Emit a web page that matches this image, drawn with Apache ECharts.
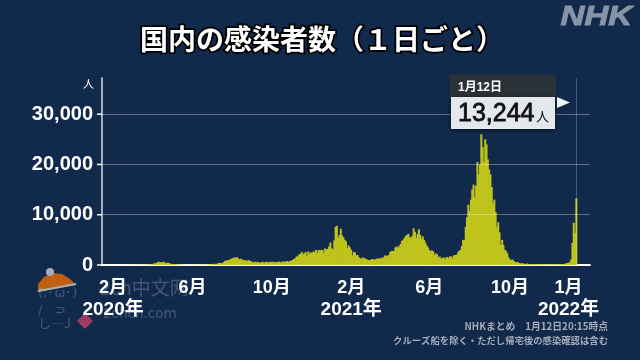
<!DOCTYPE html>
<html><head><meta charset="utf-8">
<style>html,body{margin:0;padding:0;background:#11294a}#c{width:640px;height:360px}</style>
<script src="https://cdn.jsdelivr.net/npm/echarts@6/dist/echarts.min.js"></script>
</head><body><div id="c"></div>
<script>
const titleText = '国内の感染者数（１日ごと）';
const yTicks = [0, 10000, 20000, 30000];
const yUnit = '人';
// One reading every second day from 15 Jan 2020
const cases2020 = [
  0,0,0,0,2,1,1,2,2,
  2,0,3,5,10,8,10,15,12,15,12,10,20,20,
  15,30,30,40,45,50,35,45,40,55,40,60,50,90,100,190,
  250,360,300,510,650,560,500,600,640,430,380,480,400,260,210,
  200,200,130,110,100,80,70,50,30,30,20,25,30,30,20,
  40,30,40,20,40,30,40,50,40,50,60,70,70,90,100,
  130,190,250,200,240,390,430,400,290,600,800,900,920,1000,1100,1250,
  1350,1500,1400,1600,1350,1100,1250,1100,1000,1000,900,800,1000,850,750,
  650,500,650,500,650,500,450,550,650,400,550,650,500,550,650,
  550,650,500,600,500,650,650,450,650,700,550,750,800,600,800,900,
  1000,1200,1300,1700,1700,2100,2200,2600,2100,2300,2600,1800,2700,2200,2500,
  2400,2700,2600,3000,2400,3000,2800,3000,3000,2400,3300,3100,3200,3700,4500
];
const cases2021 = [
  3300,3100,4900,7600,7800,5400,6000,7200,5900,5500,5000,4700,3300,3900,3500,3000,
  1900,2600,2500,1900,2000,1500,1300,1300,1500,1300,1300,1100,1000,950,
  1000,1200,1100,1100,1100,1300,1200,1400,1200,1500,1500,1900,1700,1900,2000,
  2600,2800,2800,2800,3500,3700,3400,3800,4200,4800,5000,5400,5800,6000,6200,
  5500,5500,5800,7300,6600,5400,6200,7100,6000,5200,5700,5000,4500,3900,3500,3000,
  2700,2900,2700,2000,2300,2100,1500,1700,1300,1400,1500,1100,1500,1600,1300,
  1700,1700,1300,1900,2000,2000,2500,2800,3000,3800,5000,5000,7600,9500,12000,
  10800,13000,15000,16000,13500,15800,20500,18000,20000,26000,23500,20500,25000,24000,21000,19000,
  18000,15500,12300,13000,10500,7500,8500,6500,4000,5000,4000,3000,2800,2300,1500,
  1100,1000,1100,800,600,500,600,400,300,350,300,250,200,300,200,
  180,150,220,150,180,140,150,120,160,140,150,130,100,130,120,
  130,110,130,100,150,120,110,140,150,180,190,200,240,280,400,500
];
const cases2022 = [500,1100,4400,8400,6400,13244];
const trailingGap = 10;
const monthLabels = ['2月','6月','10月','2月','6月','10月','1月'];
const yearLabels = ['2020年','','','2021年','','','2022年'];
const labelSlots = [8,69,130,191,251,313,358];
const calloutDate = '1月12日';
const calloutValue = '13,244';
const sourceNote = 'NHKまとめ　1月12日20:15時点';
const scopeNote = 'クルーズ船を除く・ただし帰宅後の感染確認は含む';
const bandName = 'NHK';

const cases = cases2020.concat(cases2021, cases2022);
const slots = cases.concat(new Array(trailingGap).fill(null)).map((_, i) => i);
const LAT = '"Liberation Sans","Noto Sans CJK JP",sans-serif';
const JP = '"Noto Sans CJK JP",sans-serif';
const wm = 'rgba(215,225,240,0.25)';

const overlays = [
  {type:'polygon',z:0,shape:{points:[[38,292],[38,284],[44,277],[52,273],[62,274],[70,279],[76,285]]},style:{fill:'#c05f12'}},
  {type:'line',z:0,shape:{x1:38,y1:291,x2:76,y2:284},style:{stroke:'#a8adb4',lineWidth:2}},
  {type:'circle',z:0,shape:{cx:50,cy:272,r:4},style:{fill:'#a8adb4'}},
  {type:'text',z:0,x:38,y:287,style:{text:'(;･ω･)',fontFamily:'"DejaVu Sans",sans-serif',fontSize:13,fill:wm}},
  {type:'text',z:0,x:38,y:304,style:{text:'/   ⊃',fontFamily:'"DejaVu Sans",sans-serif',fontSize:13,fill:wm}},
  {type:'text',z:0,x:38,y:317,style:{text:'し―J',fontFamily:JP,fontSize:13,fill:wm}},
  {type:'polygon',z:0,shape:{points:[[85,313],[93,321],[85,329],[77,321]]},style:{fill:'rgba(190,65,105,0.8)'}},
  {type:'text',z:0,x:100,y:278,style:{text:'2ch中文网',fontFamily:JP,fontSize:19,fill:wm}},
  {type:'text',z:0,x:103,y:307,style:{text:'2chcn.com',fontFamily:'"DejaVu Sans",sans-serif',fontSize:13.5,fill:wm}},
  {type:'text',left:560,top:3,scaleX:1.18,style:{text:bandName,fontFamily:'"Liberation Sans",sans-serif',fontWeight:'bold',fontStyle:'italic',fontSize:28,fill:'#8794a6',stroke:'#8794a6',lineWidth:1}},
  {type:'rect',z:100,shape:{x:450,y:75,width:106,height:23},style:{fill:'#2b3338'}},
  {type:'rect',z:100,shape:{x:451,y:97,width:104,height:32},style:{fill:'#e4e8ec',shadowBlur:4,shadowColor:'rgba(0,0,0,0.6)',shadowOffsetY:1}},
  {type:'polygon',z:100,shape:{points:[[557,97],[570,102.5],[557,108]]},style:{fill:'#f2f4f6'}},
  {type:'text',z:101,x:458,y:82,style:{text:calloutDate,fontFamily:LAT,fontWeight:'bold',fontSize:12,fill:'#fff'}},
  {type:'text',z:101,x:458,y:102,style:{text:calloutValue,fontFamily:'"Liberation Sans",sans-serif',fontSize:25,fill:'#111',stroke:'#111',lineWidth:0.8}},
  {type:'text',z:101,x:536,y:110,style:{text:yUnit,fontFamily:JP,fontSize:13,fill:'#111'}},
  {type:'text',right:32,top:321,style:{text:sourceNote,fontFamily:JP,fontWeight:'bold',fontSize:9.8,fill:'#a4acb9'}},
  {type:'text',right:32,top:336,style:{text:scopeNote,fontFamily:JP,fontWeight:'bold',fontSize:9.35,fill:'#a4acb9'}}
];

const chart = echarts.init(document.getElementById('c'), null, {renderer:'canvas'});
chart.setOption({
  animation:false,
  backgroundColor:'#11294a',
  title:{text:titleText,left:140,top:25,padding:0,
    textStyle:{fontFamily:JP,fontSize:28,fontWeight:'bold',color:'#fff',textBorderColor:'#000',textBorderWidth:3.5}},
  grid:{left:102,right:50,top:78,bottom:95},
  xAxis:{type:'category',data:slots,boundaryGap:true,
    axisLine:{onZero:false,lineStyle:{color:'#fff',width:2}},
    axisTick:{show:false},
    splitLine:{show:false},
    axisLabel:{interval:(i)=>labelSlots.includes(i),margin:13,
      color:'#fff',fontFamily:LAT,fontWeight:'bold',fontSize:18,align:'center',
      rich:{m:{fontFamily:LAT,fontWeight:'bold',fontSize:18,color:'#fff',lineHeight:21},
            y:{fontFamily:LAT,fontWeight:'bold',fontSize:19,color:'#fff',lineHeight:22}},
      formatter:(v)=>{const k=labelSlots.indexOf(Number(v));return yearLabels[k]?'{m|'+monthLabels[k]+'}\n{y|'+yearLabels[k]+'}':'{m|'+monthLabels[k]+'}';}}
  },
  yAxis:{type:'value',min:0,max:37200,
    name:yUnit,nameLocation:'end',nameGap:0,
    nameTextStyle:{color:'#fff',fontFamily:JP,fontSize:11,align:'right',verticalAlign:'top',padding:[0,8,0,0]},
    axisLine:{show:true,lineStyle:{color:'#d9dde2',width:1.5}},
    axisTick:{show:false},
    splitLine:{show:false},
    axisLabel:{customValues:yTicks,margin:9,color:'#fff',fontFamily:LAT,fontWeight:'bold',fontSize:20,
      formatter:(v)=>v.toLocaleString('en-US')}
  },
  series:[{type:'bar',data:cases,barWidth:2,barGap:0,large:false,
    itemStyle:{color:'#bfc41d'},
    markLine:{silent:true,symbol:'none',label:{show:false},
      lineStyle:{color:'rgba(255,255,255,0.33)',width:1.2,type:'solid'},
      data:[{xAxis:cases.length-1,lineStyle:{color:'rgba(255,255,255,0.22)',width:1}}]
        .concat(yTicks.filter(v=>v>0).map(v=>({yAxis:v})))}
  }],
  graphic:overlays
});
// Tick dashes placed through the axis scale, appended after the overlays
const tickDashes = yTicks.map(v=>{
  const y=chart.convertToPixel({yAxisIndex:0}, v);
  return {type:'line',z:5,shape:{x1:97,y1:y,x2:102,y2:y},style:{stroke:'#fff',lineWidth:1.5}};
});
chart.setOption({graphic:overlays.concat(tickDashes)});
</script></body></html>
